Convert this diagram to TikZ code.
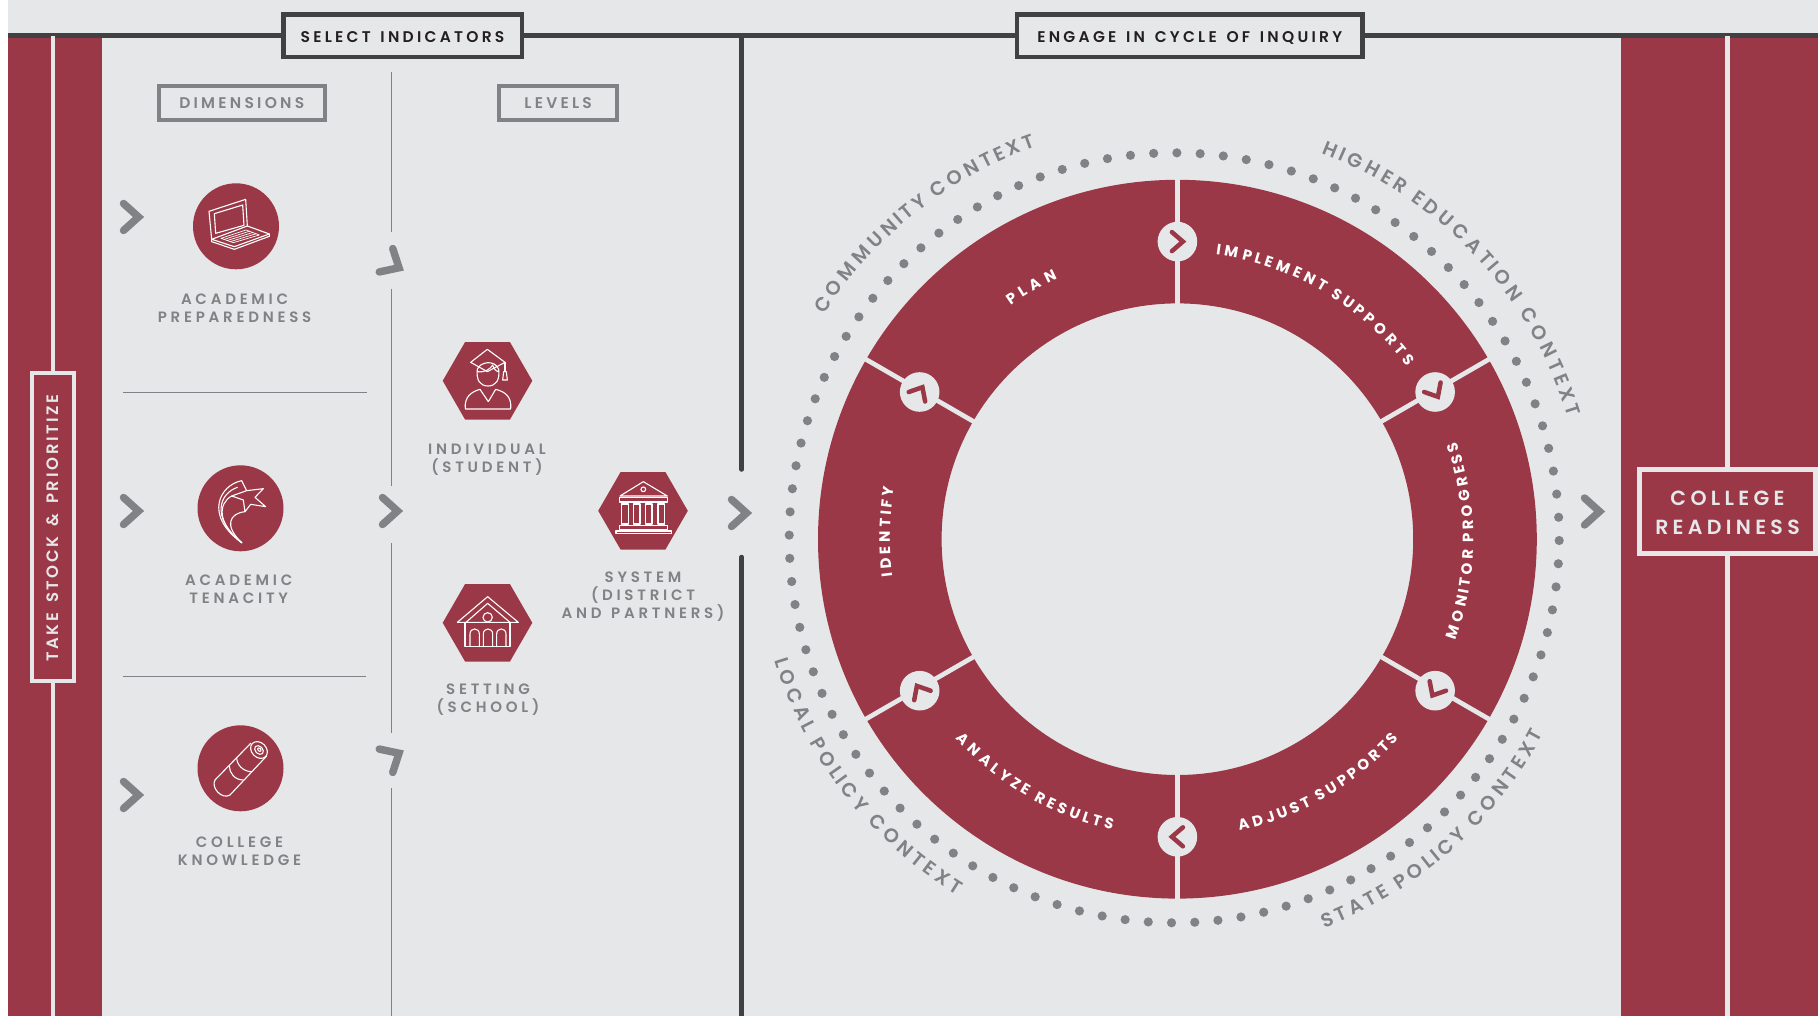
\documentclass[tikz,border=0pt]{standalone}
\usepackage{fontspec}
\usetikzlibrary{shapes.geometric, decorations.text}
\setmainfont{Poppins}
\newfontfamily\headfont[LetterSpace=21, WordSpace=1.4, UprightFont={* SemiBold}]{Poppins}
\newfontfamily\bandfont[LetterSpace=16, WordSpace=1.5, UprightFont={* SemiBold}]{Poppins}
\newfontfamily\labelfont[LetterSpace=25, WordSpace=1.3, UprightFont={* SemiBold}]{Poppins}
\newfontfamily\arcfont[UprightFont={* SemiBold}]{Poppins}
\newfontfamily\wheelfont[UprightFont={* Bold}]{Poppins}
\definecolor{cardinal}{HTML}{9A3847}
\definecolor{paper}{HTML}{E6E7E8}
\definecolor{slate}{HTML}{414042}
\definecolor{midgray}{HTML}{808285}
\definecolor{inkblack}{HTML}{231F20}
\tikzset{
  chevron/.style={draw=midgray, line width=7.5pt, line cap=round, line join=miter},
  smallchevron/.style={draw=cardinal, line width=4.5pt, line cap=round, line join=miter},
  thinrule/.style={draw=midgray, line width=1.2pt},
  darkrule/.style={draw=slate, line width=4.5pt},
  bandrule/.style={draw=paper, line width=4.7pt},
  headbox/.style={draw=slate, line width=4.5pt, fill=paper, text=inkblack, inner sep=0pt, minimum height=42.5pt, text height=12.5pt, text depth=0pt, font=\headfont\fontsize{15.5}{17}\selectfont},
  subbox/.style={draw=midgray, line width=4pt, fill=paper, text=midgray, inner sep=0pt, minimum height=34pt, text height=10.7pt, text depth=0pt, font=\headfont\fontsize{15.5}{17}\selectfont},
  redlabel/.style={align=center, text=midgray, inner sep=0pt, font=\labelfont\fontsize{15}{17.9}\selectfont},
  dimcircle/.style={circle, fill=cardinal, minimum size=86pt, inner sep=0pt},
  levelhex/.style={regular polygon, regular polygon sides=6, fill=cardinal, minimum size=89.6pt, inner sep=0pt},
  stepdisc/.style={circle, fill=paper, minimum size=39.6pt, inner sep=0pt},
  icon/.style={draw=white, line width=1.1pt, line join=round, line cap=round},
  arclabel/.style={decorate, decoration={text effects along path, text={#1}, text effects/.cd, text along path, fit text to path, characters={font=\arcfont\fontsize{19.5}{21}\selectfont, text=midgray, inner sep=0pt}}},
  ringlabel/.style={decorate, decoration={text effects along path, text={#1}, text effects/.cd, text along path, fit text to path, characters={font=\wheelfont\fontsize{15}{17}\selectfont, text=white, inner sep=0pt}}}
}
\begin{document}
\begin{tikzpicture}[x=1pt, y=-1pt]
\useasboundingbox (0,0) rectangle (1818,1016);
\def\wheelx{1177.4}
\def\wheely{539.2}

\fill[paper] (8,0) rectangle (1818,1016);
\fill[cardinal] (8,36) rectangle (102,1016);
\fill[cardinal] (1621,36) rectangle (1818,1016);

% TOP LINE AND HEADINGS
\coordinate (topleft) at (8,35.5);
\coordinate (topright) at (1818,35.5);
\draw[darkrule] (topleft) -- (topright);
\node (select) [headbox, minimum width=238.5pt] at (402.5,35.8) {SELECT INDICATORS};
\node (engage) [headbox, minimum width=345.5pt] at (1189.8,35.8) {ENGAGE IN CYCLE OF INQUIRY};
\draw[darkrule, line cap=round] (741.6,38) -- (741.6,469.5);
\draw[darkrule, line cap=round] (741.6,557) -- (741.6,1016);

% LEFT BAND
\node (takestock) [draw=paper, line width=4.5pt, fill=cardinal, text=paper, rotate=90, inner sep=0pt, minimum width=308pt, minimum height=42pt, text height=11.5pt, text depth=0pt, font=\bandfont\fontsize{16.5}{20}\selectfont] at (53,527) {TAKE STOCK \& PRIORITIZE\hspace*{2pt}};
\draw[bandrule] (takestock.east) -- (53,36);
\draw[bandrule] (takestock.west) -- (53,1016);

% RIGHT BAND
\node (readiness) [draw=paper, line width=4.7pt, fill=cardinal, text=paper, align=center, inner sep=0pt, minimum width=176pt, minimum height=84.4pt, font=\headfont\fontsize{20.5}{29}\selectfont] at (1727.5,511.5) {\rule{0pt}{16.6pt}COLLEGE\\READINESS};
\draw[bandrule] (readiness.north) -- (1727.5,36);
\draw[bandrule] (readiness.south) -- (1727.5,1016);

% INDICATORS
\node (dimensions) [subbox, minimum width=165.5pt] at (241.8,102.7) {DIMENSIONS};
\node (levels) [subbox, minimum width=117.5pt] at (558.2,102.7) {LEVELS};
\draw[thinrule] (391.5,71.7) -- (391.5,231.7);
\draw[thinrule] (391.5,288.7) -- (391.5,485.7);
\draw[thinrule] (391.5,543) -- (391.5,732.7);
\draw[thinrule] (391.5,788) -- (391.5,1016);
\draw[thinrule] (123,392.3) -- (367,392.3);
\draw[thinrule] (123,676.3) -- (365.5,676.3);

\foreach \px/\py/\rot in {131/217/0, 131/511/0, 131/795/0, 390/511/0, 739/513/0, 1592/511.5/0, 392.5/264/-30, 392.5/757/30}
  \draw[chevron, shift={(\px,\py)}, rotate=\rot] (-7.5,-13.5) -- (7.5,0) -- (-7.5,13.5);

\node (prepared) [dimcircle] at (236,226.3) {};
\node (tenacity) [dimcircle] at (240.5,508.3) {};
\node (knowledge) [dimcircle] at (240.5,768.3) {};
\node (student) [levelhex] at (487.5,380.8) {};
\node (school) [levelhex] at (487.5,622.8) {};
\node (district) [levelhex] at (643,510.8) {};

\node (preparedlabel) [redlabel] at (234.6,308.2) {ACADEMIC\\PREPAREDNESS};
\node (tenacitylabel) [redlabel] at (238.7,589.2) {ACADEMIC\\TENACITY};
\node (knowledgelabel) [redlabel] at (239.5,851.2) {COLLEGE\\KNOWLEDGE};
\node (studentlabel) [redlabel] at (487,459.5) {INDIVIDUAL\\(STUDENT)};
\node (schoollabel) [redlabel] at (488,700) {SETTING\\(SCHOOL)};
\node (districtlabel) [redlabel] at (643,597) {SYSTEM\\(DISTRICT\\AND PARTNERS)};

\begin{scope}[shift={(170,160)}, scale=1/3] % LAPTOP
\draw[icon] (125,238) -- (117,154) -- (227,118) -- (232,198);
\draw[icon] (133,161) -- (218,135) -- (222,196) -- (137,220) -- cycle;
\draw[icon] (125,238) -- (232,198) -- (298,222) -- (193,260) -- cycle;
\draw[icon] (125,238) -- (125,245) -- (193,268) -- (298,229) -- (298,222);
\draw[icon, line width=0.7pt] (153,235) -- (228,210) -- (268,225) -- (190,248) -- cycle;
\foreach \k in {1,2,3}
  \draw[icon, line width=0.7pt] (153+\k*9.5,235+\k*3.2) -- (228+\k*10,210+\k*3.8);
\end{scope}

\begin{scope}[shift={(180,450)}, scale=1/3] % STAR
\draw[icon] (185,92) -- (200,122) -- (250,116) -- (225,142) -- (257,170) -- (212,163) -- (195,185) -- (190,150) -- (155,138) -- (200,122);
\draw[icon] (185,92) .. controls (120,105) and (70,195) .. (185,278);
\draw[icon] (172,112) .. controls (120,130) and (90,200) .. (185,278);
\draw[icon] (155,138) .. controls (115,160) and (110,220) .. (185,278);
\draw[icon] (195,185) .. controls (150,190) and (130,225) .. (185,278);
\end{scope}

\begin{scope}[shift={(180,450)}, scale=1/3] % SCROLL
\draw[icon] (237,900) ellipse [x radius=28, y radius=22, rotate=-45];
\draw[icon] (237,900) ellipse [x radius=15, y radius=11, rotate=-45];
\draw[icon] (238,899) ellipse [x radius=6, y radius=4, rotate=-45];
\draw[icon] (212,880) -- (105,990) .. controls (92,1012) and (125,1050) .. (150,1035) -- (260,918);
\draw[icon] (148,948) .. controls (148,970) and (165,990) .. (190,990);
\draw[icon] (170,922) .. controls (170,945) and (190,965) .. (215,965);
\end{scope}

\begin{scope}[shift={(430,330)}, scale=1/3] % GRADUATE
\draw[icon] (172,58) -- (225,97) -- (172,125) -- (122,97) -- cycle;
\draw[icon] (225,97) -- (225,125);
\draw[icon] (218,150) -- (221,125) -- (229,125) -- (232,150) -- cycle;
\draw[icon] (142,118) .. controls (138,150) and (150,168) .. (174,168) .. controls (198,168) and (210,150) .. (206,118);
\draw[icon] (142,118) .. controls (150,95) and (195,88) .. (206,118);
\draw[icon] (142,125) .. controls (165,128) and (180,118) .. (188,105) .. controls (192,118) and (200,125) .. (206,125);
\draw[icon] (106,237) .. controls (102,200) and (125,185) .. (150,178) -- (175,215) -- (197,178) .. controls (225,185) and (246,200) .. (242,237) -- cycle;
\end{scope}

\begin{scope}[shift={(430,330)}, scale=1/3] % BUILDING
\draw[icon] (640,455) -- (712,498) -- (570,498) -- cycle;
\draw[icon] (640,478) circle (7);
\draw[icon] (568,503) rectangle (712,516);
\foreach \cx in {575,610,646,684}
  \draw[icon] (\cx,522) rectangle +(20,60);
\draw[icon] (568,587) rectangle (712,598);
\draw[icon] (558,603) rectangle (725,611);
\end{scope}

\begin{scope}[shift={(430,330)}, scale=1/3] % HOUSE
\draw[icon] (82,877) -- (173,800) -- (265,877) -- cycle;
\draw[icon] (108,877) -- (173,820) -- (240,877);
\draw[icon] (173,862) circle (14);
\draw[icon] (105,877) -- (105,950) -- (240,950) -- (240,877);
\foreach \dx in {120,160,200}
  \draw[icon] (\dx,950) -- (\dx,912) .. controls (\dx,892) and (\dx+28,892) .. (\dx+28,912) -- (\dx+28,950);
\end{scope}

% WHEEL
\begin{scope}[shift={(\wheelx,\wheely)}, y=1pt]
\fill[cardinal, even odd rule] (0,0) circle (359.4) (0,0) circle (235.8);
\foreach \ang/\name/\drop in {90/planstep/0, 30/implementstep/1.6, -30/monitorstep/2.7, -90/adjuststep/0, -150/analyzestep/2.7, 150/identifystep/1.6} {
  \draw[bandrule] (\ang:233) -- (\ang:362);
  \node (\name) [stepdisc, shift={(0,-\drop)}] at (\ang:297.6) {};
  \draw[smallchevron, shift={(\name)}, rotate=\ang-90] (-5.5,-9.5) -- (5.5,0) -- (-5.5,9.5);
}
\path[ringlabel={PLAN}] (125.5:287) arc (125.5:114.7:287);
\path[ringlabel={IMPLEMENT SUPPORTS}] (82.3:287) arc (82.3:37:287);
\path[ringlabel={MONITOR PROGRESS}] (-20:296) arc (-20:19.3:296);
\path[ringlabel={ADJUST SUPPORTS}] (-78:298) arc (-78:-42:298);
\path[ringlabel={ANALYZE RESULTS}] (222:298) arc (222:257.4:298);
\path[ringlabel={IDENTIFY}] (187.4:287.5) arc (187.4:169.6:287.5);
\end{scope}

% CONTEXT DOTS
\begin{scope}[shift={(1174.2,537.8)}, y=1pt]
\foreach \n in {0,...,103}
  \fill[midgray] (89.6+\n*3.4615:385) circle (4.6);
\path[arclabel={COMMUNITY CONTEXT}] (147.5:415) arc (147.5:109.5:415);
\path[arclabel={HIGHER EDUCATION CONTEXT}] (69:412) arc (69:17:412);
\path[arclabel={LOCAL POLICY CONTEXT}] (197:418) arc (197:238.7:418);
\path[arclabel={STATE POLICY CONTEXT}] (-69:418) arc (-69:-28:418);
\end{scope}
\end{tikzpicture}
\end{document}
